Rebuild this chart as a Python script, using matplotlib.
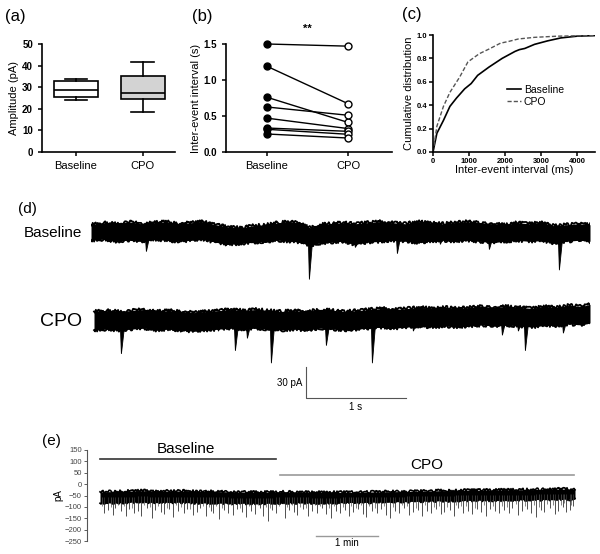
import numpy as np
import matplotlib.pyplot as plt

plt.rcParams['font.family'] = ['Liberation Sans', 'DejaVu Sans']

W, H = 600, 554

# (a) mEPSC amplitude, box plot summary (pA)
amp_groups = ['Baseline', 'CPO']
amp_whislo = [24.1, 18.6]
amp_q1 = [25.5, 24.6]
amp_med = [28.6, 27.2]
amp_q3 = [32.8, 35.0]
amp_whishi = [33.7, 41.8]
amp_fill = ['white', '#d3d3d3']

# (b) paired inter-event interval (s)
iei_base = [1.50, 1.19, 0.76, 0.625, 0.47, 0.333, 0.315, 0.25]
iei_cpo = [1.47, 0.67, 0.41, 0.51, 0.325, 0.287, 0.246, 0.194]

# (c) cumulative distribution of inter-event interval (ms)
cum_base_x = [0, 108, 290, 470, 650, 880, 1060, 1240, 1556, 1920, 2280, 2400, 2550, 2820, 3185, 3550, 4000, 4500]
cum_base_y = [0, 0.16, 0.27, 0.39, 0.46, 0.54, 0.585, 0.655, 0.726, 0.80, 0.86, 0.875, 0.885, 0.92, 0.95, 0.975, 0.99, 0.995]
cum_cpo_x = [0, 108, 290, 470, 740, 970, 1285, 1556, 1873, 2100, 2370, 2820, 3457, 4000, 4500]
cum_cpo_y = [0, 0.22, 0.39, 0.51, 0.64, 0.77, 0.84, 0.88, 0.93, 0.945, 0.966, 0.98, 0.99, 0.993, 0.995]

# (d) example traces: noise envelope (pA around holding level) and events (s, pA)
d_t = [0.00, 0.12, 0.25, 0.37, 0.50, 0.62, 0.75, 0.87, 1.00, 1.12, 1.25, 1.37, 1.50, 1.62,
       1.75, 1.87, 2.00, 2.12, 2.19, 2.27, 2.39, 2.51, 2.64, 2.76, 2.89, 3.01, 3.14, 3.26,
       3.39, 3.51, 3.63, 3.76, 3.88, 4.01, 4.13, 4.26, 4.38, 4.51, 4.63, 4.75, 4.88, 4.99]
bl_hi = [7, 9, 8, 10, 8, 9, 10, 8, 9, 10, 7, 5, 4, 6, 7, 9, 10, 8, 4, 7, 8, 9, 8, 9, 10, 9,
         8, 10, 9, 8, 9, 10, 9, 8, 7, 9, 8, 9, 6, 7, 8, 7]
bl_lo = [-8, -7, -9, -8, -9, -7, -8, -9, -8, -7, -10, -12, -11, -10, -9, -8, -9, -10, -13, -11,
         -10, -9, -12, -10, -9, -8, -9, -10, -9, -8, -9, -8, -9, -10, -9, -8, -9, -8, -11, -9, -8, -9]
cpo_hi = [8, 9, 8, 9, 10, 8, 9, 8, 7, 8, 9, 10, 9, 10, 9, 8, 9, 8, 9, 10, 9, 8, 9, 10, 11, 10,
          11, 12, 11, 12, 11, 12, 13, 12, 13, 12, 11, 13, 12, 14, 13, 15]
cpo_lo = [-10, -9, -10, -9, -8, -10, -9, -10, -11, -10, -9, -8, -9, -8, -9, -10, -9, -10, -9, -8,
          -9, -10, -9, -8, -7, -8, -7, -6, -7, -6, -7, -6, -5, -6, -5, -6, -7, -5, -6, -4, -5, -3]
bl_ev_t = [0.55, 1.45, 2.18, 2.64, 3.06, 3.49, 3.98, 4.68]
bl_ev_a = [-19, -13, -46, -15, -21, -12, -17, -37]
cpo_ev_t = [0.30, 0.89, 1.27, 1.44, 1.56, 1.80, 2.35, 2.81, 3.22, 4.11, 4.27, 4.34, 4.72]
cpo_ev_a = [-33, -12, -11, -30, -18, -42, -25, -42, -11, -15, -11, -30, -13]
cpo_offset = -85

# (e) long recording (s, pA)
e_t = [0, 20, 40, 60, 80, 100, 120, 140, 160, 180, 200, 220, 250, 280, 310, 340, 370, 400, 430, 460, 475]
e_hi = [-34, -32, -29, -31, -30, -32, -33, -35, -36, -34, -35, -36, -36, -34, -32, -29, -27, -26, -24, -22, -22]
e_lo = [-84, -81, -78, -80, -79, -82, -83, -84, -84, -82, -81, -83, -81, -79, -76, -73, -71, -70, -68, -66, -66]
e_ev_t = [4, 8, 13, 15, 21, 26, 29, 34, 38, 41, 47, 52, 55, 61, 64, 69, 73, 78, 84, 87, 93, 97,
          100, 106, 111, 113, 119, 124, 128, 133, 137, 142, 146, 151, 155, 160, 163, 168, 172, 176,
          185, 189, 194, 197, 203, 208, 212, 217, 222, 226, 231, 236, 240, 245, 249, 253, 258, 263,
          266, 272, 277, 281, 286, 290, 295, 299, 304, 309, 313, 318, 322, 327, 331, 336, 341, 344,
          350, 354, 358, 363, 368, 372, 377, 381, 386, 390, 395, 399, 404, 409, 412, 418, 422, 427,
          431, 436, 441, 444, 450, 455, 458, 463, 466, 470, 473]
e_ev_a = [-128, -112, -135, -104, -120, -140, -110, -126, -118, -138, -106, -150, -115, -124, -132,
          -108, -145, -119, -128, -111, -136, -122, -103, -141, -117, -129, -152, -113, -125, -137,
          -109, -121, -146, -118, -131, -107, -139, -160, -115, -127, -150, -112, -124, -136, -110,
          -142, -118, -128, -105, -133, -147, -119, -126, -112, -138, -121, -108, -130, -143, -116,
          -125, -110, -137, -148, -119, -128, -106, -134, -121, -113, -140, -117, -126, -109, -131,
          -122, -114, -138, -104, -127, -118, -133, -111, -124, -142, -108, -120, -129, -112, -125,
          -103, -136, -117, -110, -128, -145, -114, -122, -107, -131, -118, -101, -124, -112, -96]
# smaller events between the large ones
e_sm_t = [2, 11, 18, 24, 32, 44, 50, 58, 67, 76, 81, 90, 103, 109, 116, 122, 131, 140, 149, 158,
          166, 170, 179, 187, 192, 200, 206, 215, 220, 229, 234, 243, 251, 256, 261, 269, 275, 284,
          293, 302, 307, 316, 325, 334, 339, 347, 356, 361, 366, 375, 384, 393, 402, 407, 416, 425,
          434, 439, 447, 453, 461, 464, 471]
e_sm_a = [-95, -102, -90, -98, -106, -93, -100, -97, -104, -91, -99, -108, -94, -101, -96, -103,
          -92, -105, -98, -90, -100, -107, -95, -102, -93, -99, -104, -91, -97, -106, -94, -100,
          -96, -103, -92, -98, -105, -94, -101, -90, -97, -104, -93, -99, -95, -102, -91, -98,
          -96, -103, -90, -97, -94, -100, -88, -95, -92, -99, -86, -93, -90, -85, -92]


def fx(px):
    return px / W


def fy(py):
    return 1 - py / H


def prism(ax):
    for s in ['top', 'right']:
        ax.spines[s].set_visible(False)
    for s in ['left', 'bottom']:
        ax.spines[s].set_linewidth(1.2)
    ax.tick_params(direction='out', length=3, width=1.1, labelsize=7)
    for lab in ax.get_yticklabels():
        lab.set_fontweight('bold')


def band(ax, t, lo, hi, lw, sk):
    # noisy recording drawn as a filled envelope with ragged edges
    ax.fill_between(t, lo, hi, color='black', lw=0)
    for edge in (hi, lo):
        ln, = ax.plot(t, edge, color='black', lw=lw)
        ln.set_sketch_params(*sk)


fig = plt.figure(figsize=(6, 5.54), dpi=100)

# ---- (a)
ax = fig.add_axes([fx(42), fy(152), fx(133), 108 / H])
stats = []
for i in range(2):
    stats.append(dict(label=amp_groups[i], whislo=amp_whislo[i], q1=amp_q1[i], med=amp_med[i],
                      q3=amp_q3[i], whishi=amp_whishi[i], fliers=[]))
bp = ax.bxp(stats, positions=[0, 1], widths=0.66, patch_artist=True, showfliers=False,
            boxprops=dict(linewidth=1.2), medianprops=dict(color='black', linewidth=1.2),
            whiskerprops=dict(linewidth=1.2), capprops=dict(linewidth=1.2))
for patch, c in zip(bp['boxes'], amp_fill):
    patch.set_facecolor(c)
for cap in bp['caps']:
    m = np.mean(cap.get_xdata())
    cap.set_xdata([m - 0.17, m + 0.17])
ax.set_xlim(-0.507, 1.48)
ax.set_ylim(0, 50)
ax.set_yticks(range(0, 51, 10))
ax.set_ylabel('Amplitude (pA)', fontsize=8, labelpad=2)
prism(ax)
ax.tick_params(axis='x', labelsize=8)

# ---- (b)
ax = fig.add_axes([fx(226), fy(152), fx(166), 108 / H])
for b, c in zip(iei_base, iei_cpo):
    ax.plot([0, 1], [b, c], color='black', lw=1.0, zorder=1)
ax.plot(np.zeros(len(iei_base)), iei_base, 'o', color='black', ms=5, zorder=2)
ax.plot(np.ones(len(iei_cpo)), iei_cpo, 'o', mfc='white', mec='black', mew=1.0, ms=5, zorder=2)
ax.set_xlim(-0.506, 1.54)
ax.set_ylim(0, 1.5)
ax.set_yticks([0, 0.5, 1.0, 1.5])
ax.set_yticklabels(['0.0', '0.5', '1.0', '1.5'])
ax.set_xticks([0, 1])
ax.set_xticklabels(amp_groups)
ax.set_ylabel('Inter-event interval (s)', fontsize=8, labelpad=2)
for ln in ax.lines:
    ln.set_clip_on(False)
prism(ax)
ax.tick_params(axis='x', labelsize=8)
ax.text(0.5, 1.71, '**', ha='center', va='center', fontsize=8, fontweight='bold')

# ---- (c)
ax = fig.add_axes([fx(433), fy(152), fx(162), 117 / H])
ax.plot(cum_base_x, cum_base_y, color='black', lw=1.2, label='Baseline')
ax.plot(cum_cpo_x, cum_cpo_y, color='#555555', lw=1.0, ls=(0, (3, 1.5)), label='CPO')
ax.set_xlim(0, 4500)
ax.set_ylim(0, 1.0)
ax.set_xticks([0, 1000, 2000, 3000, 4000])
ax.set_yticks([0, 0.2, 0.4, 0.6, 0.8, 1.0])
ax.set_yticklabels(['0.0', '0.2', '0.4', '0.6', '0.8', '1.0'])
ax.set_xlabel('Inter-event interval (ms)', fontsize=8, labelpad=0.5)
ax.set_ylabel('Cumulative distribution', fontsize=8, labelpad=2)
prism(ax)
ax.tick_params(labelsize=5.5, pad=1)
for lab in ax.get_xticklabels():
    lab.set_fontweight('bold')
ax.legend(loc='center left', bbox_to_anchor=(0.4, 0.48), frameon=False, fontsize=7.5,
          handlelength=1.3, handletextpad=0.3, labelspacing=0.25)

# ---- (d)
ax = fig.add_axes([fx(91), fy(410), fx(499), 215 / H])
ax.axis('off')
ax.set_xlim(0, 4.99)
ax.set_ylim(-172.3, 35.8)


def trace(t, hi, lo, ev_t, ev_a, off):
    band(ax, t, np.add(lo, off), np.add(hi, off), 1.3, (1.6, 1.2, 2.5))
    for et, ea in zip(ev_t, ev_a):
        base = np.interp(et, t, lo) + off
        ax.fill([et - 0.006, et + 0.004, et + 0.035], [base + 3, off + ea, base + 3],
                color='black', lw=0.6)


trace(d_t, bl_hi, bl_lo, bl_ev_t, bl_ev_a, 0)
cpo_t = np.add(d_t, 0.03)
cpo_t[-1] = 4.99
trace(cpo_t, cpo_hi, cpo_lo, cpo_ev_t, cpo_ev_a, cpo_offset)
ax.plot([2.15, 2.15, 3.15], [-130.7, -160.7, -160.7], color='#555555', lw=0.8)
ax.text(2.11, -146, '30 pA', ha='right', va='center', fontsize=7)
ax.text(2.65, -165, '1 s', ha='center', va='top', fontsize=7)

# ---- (e)
ax = fig.add_axes([fx(86.5), fy(541), fx(493.5), 91 / H])
ax.set_xlim(-13.5, 480)
ax.set_ylim(-250, 150)
band(ax, e_t, e_lo, e_hi, 1.2, (1.4, 1.0, 2.5))
mid = (np.interp(e_ev_t, e_t, e_lo) + np.interp(e_ev_t, e_t, e_hi)) / 2
ax.vlines(e_ev_t, mid, e_ev_a, color='#333333', lw=0.6)
mid2 = (np.interp(e_sm_t, e_t, e_lo) + np.interp(e_sm_t, e_t, e_hi)) / 2
ax.vlines(e_sm_t, mid2, e_sm_a, color='#555555', lw=0.5)
ax.plot([0, 176], [110, 110], color='#333333', lw=1.2)
ax.plot([180, 474], [42, 42], color='#999999', lw=1.2)
ax.text(86, 122, 'Baseline', ha='center', va='bottom', fontsize=11)
ax.text(327, 53, 'CPO', ha='center', va='bottom', fontsize=11)
ax.plot([216, 278], [-226, -226], color='#999999', lw=1.0)
ax.text(247, -238, '1 min', ha='center', va='top', fontsize=7)
for s in ['top', 'right', 'bottom']:
    ax.spines[s].set_visible(False)
ax.spines['left'].set_color('#555555')
ax.spines['left'].set_linewidth(0.8)
ax.set_xticks([])
ax.set_yticks(range(-250, 151, 50))
ax.tick_params(axis='y', length=2.5, width=0.6, colors='#444444', labelsize=5.5, pad=1)
ax.set_ylabel('pA', fontsize=7, labelpad=1)

# panel letters and row labels
fig.text(fx(5), fy(17), '(a)', fontsize=12, va='center')
fig.text(fx(192), fy(17), '(b)', fontsize=12, va='center')
fig.text(fx(402), fy(15), '(c)', fontsize=12, va='center')
fig.text(fx(18), fy(209), '(d)', fontsize=11, va='center')
fig.text(fx(82), fy(233), 'Baseline', fontsize=11, va='center', ha='right')
fig.text(fx(82), fy(321), 'CPO', fontsize=14, va='center', ha='right')
fig.text(fx(42), fy(441), '(e)', fontsize=11, va='center')

fig.savefig('out.png', dpi=100)
